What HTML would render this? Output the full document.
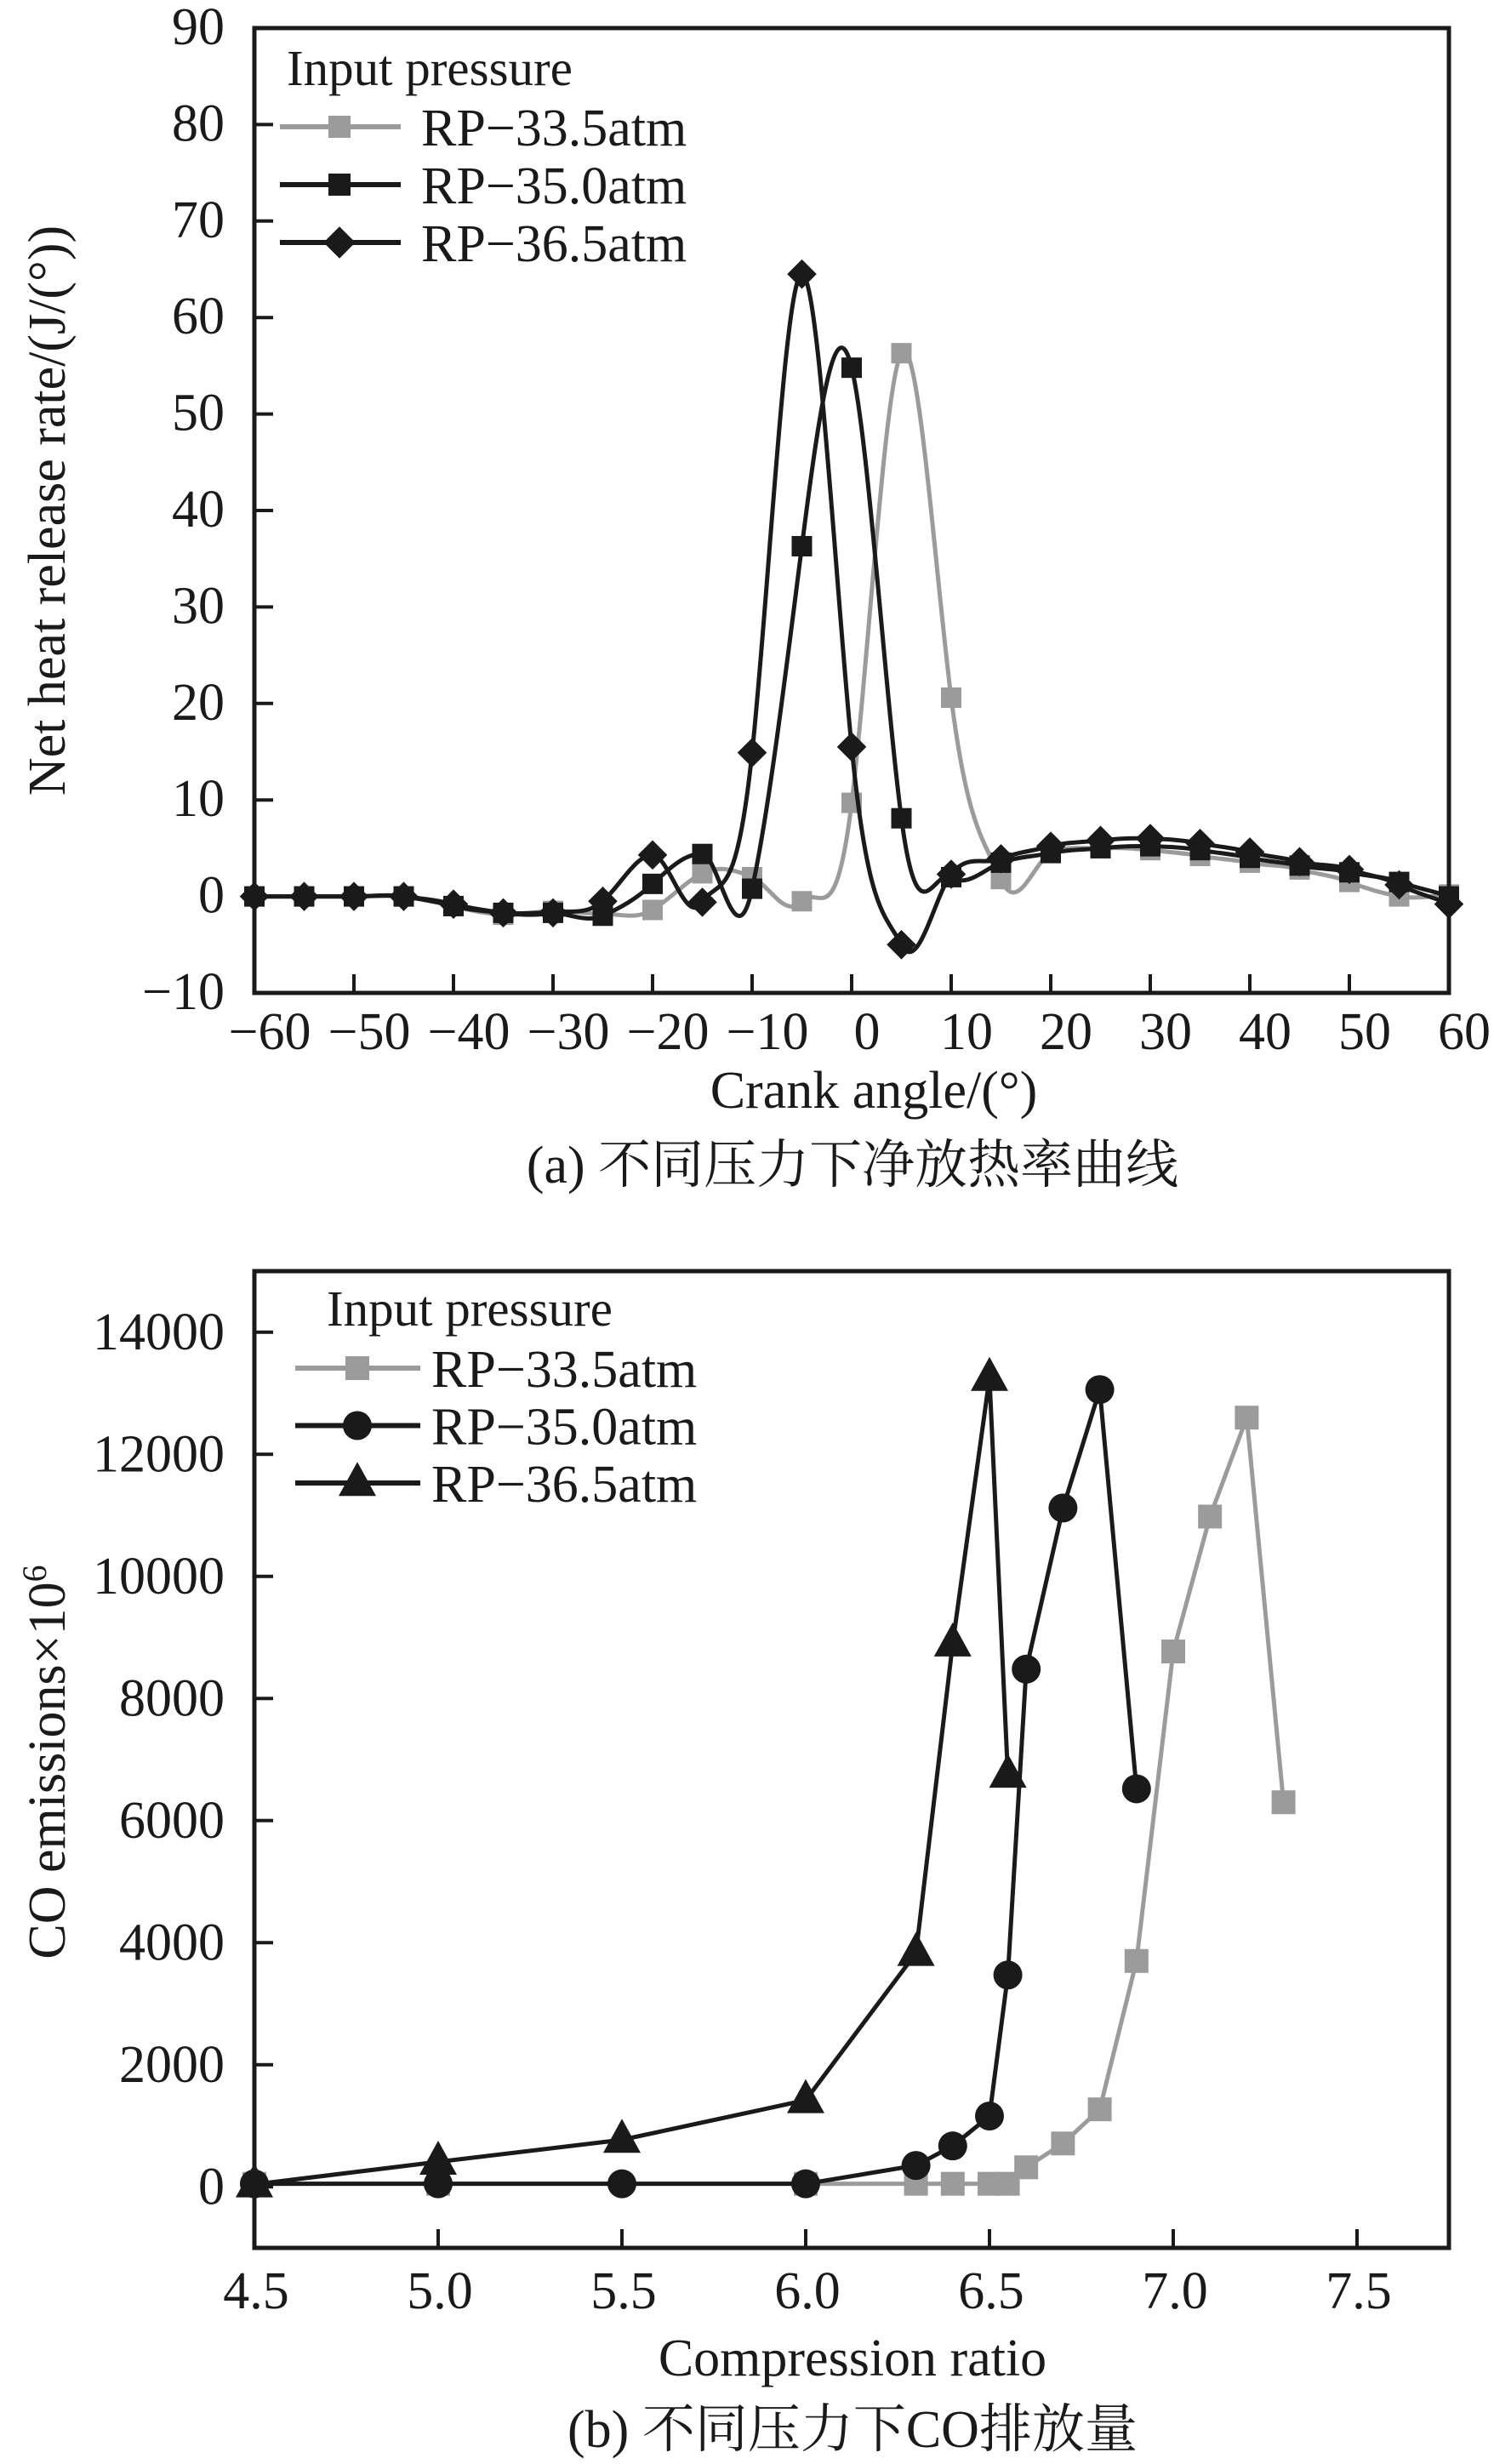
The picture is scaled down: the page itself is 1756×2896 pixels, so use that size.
<!DOCTYPE html>
<html><head><meta charset="utf-8"><style>
html,body{margin:0;padding:0;background:#fff;}
svg{display:block;font-family:"Liberation Serif","Noto Serif CJK SC","Noto Sans CJK SC",serif;}
</style></head><body>
<svg id="s" width="1756" height="2896" viewBox="0 0 1756 2896"></svg>
<script>
// ---- Chart (a) data ----
const crankAngles=[-60,-55,-50,-45,-40,-35,-30,-25,-20,-15,-10,-5,0,5,10,15,20,25,30,35,40,45,50,55,60];
const hrr335=[0,0,0,0,-1,-1.9,-1.5,-1.8,-1.4,2.4,2,-0.5,9.7,56.3,20.6,1.8,4.5,5,4.8,4.2,3.5,2.8,1.5,0,0.2];
const hrr350=[0,0,0,0,-1,-1.7,-1.7,-2,1.3,4.4,0.8,36.3,54.8,8.1,2,3.5,4.5,5,5.2,4.8,4,3.2,2.5,1.5,0];
const hrr365=[0,0,0,0,-0.8,-1.7,-1.7,-0.5,4.3,-0.6,14.9,64.5,15.5,-5,2.3,3.9,5.2,5.8,6,5.5,4.6,3.6,2.8,1.2,-0.8];
const xTicksA=[-60,-50,-40,-30,-20,-10,0,10,20,30,40,50,60];
const yTicksA=[-10,0,10,20,30,40,50,60,70,80,90];
// ---- Chart (b) data ----
const cr335=[4.5,5.0,6.0,6.3,6.4,6.5,6.55,6.6,6.7,6.8,6.9,7.0,7.1,7.2,7.3];
const co335=[50,50,50,50,50,50,50,320,710,1270,3700,8770,10980,12600,6300];
const cr350=[4.5,5.0,5.5,6.0,6.3,6.4,6.5,6.55,6.6,6.7,6.8,6.9];
const co350=[50,50,50,50,350,670,1160,3470,8480,11120,13060,6520];
const cr365=[4.5,5.0,5.5,6.0,6.3,6.4,6.5,6.55];
const co365=[40,410,770,1420,3830,8900,13250,6750];
const xTicksB=[4.5,5.0,5.5,6.0,6.5,7.0,7.5];
const yTicksB=[0,2000,4000,6000,8000,10000,12000,14000];

const NS="http://www.w3.org/2000/svg";
const svg=document.getElementById('s');
function el(tag,attrs,parent){const e=document.createElementNS(NS,tag);for(const k in attrs)e.setAttribute(k,attrs[k]);(parent||svg).appendChild(e);return e;}
function txt(str,attrs,parent){const e=el('text',attrs,parent);e.textContent=str;return e;}
const GRAY="#9b9b9b",BLACK="#1a1a1a";

function spline(pts){
  const k=4;
  let d=`M${pts[0][0]},${pts[0][1]}`;
  for(let i=0;i<pts.length-1;i++){
    const p0=pts[Math.max(0,i-1)],p1=pts[i],p2=pts[i+1],p3=pts[Math.min(pts.length-1,i+2)];
    const c1x=p1[0]+(p2[0]-p0[0])/6,c1y=p1[1]+(p2[1]-p0[1])/k;
    const c2x=p2[0]-(p3[0]-p1[0])/6,c2y=p2[1]-(p3[1]-p1[1])/k;
    d+=` C${c1x},${c1y} ${c2x},${c2y} ${p2[0]},${p2[1]}`;
  }
  return d;
}
function marker(g,type,x,y,color,size){
  let m;
  if(type==='square'){m=el('rect',{x:x-size/2,y:y-size/2,width:size,height:size,fill:color},g);}
  else if(type==='diamond'){const r=size*0.72;m=el('polygon',{points:`${x},${y-r} ${x+r},${y} ${x},${y+r} ${x-r},${y}`,fill:color},g);}
  else if(type==='circle'){m=el('circle',{cx:x,cy:y,r:size/2,fill:color},g);}
  else {const h=size;m=el('polygon',{points:`${x},${y-h*0.62} ${x+h*0.55},${y+h*0.38} ${x-h*0.55},${y+h*0.38}`,fill:color},g);}
  
  
  return m;
}

// ================= Chart A =================
const A={l:299,r:1703,t:33,b:1167,xmin:-60,xmax:60,ymin:-10,ymax:90};
const xA=v=>A.l+(v-A.xmin)/(A.xmax-A.xmin)*(A.r-A.l);
const yA=v=>A.b-(v-A.ymin)/(A.ymax-A.ymin)*(A.b-A.t);
const gA=el('g',{});


const seriesA=[
  {name:'rp-33-5',vals:hrr335,color:GRAY,m:'square'},
  {name:'rp-35-0',vals:hrr350,color:BLACK,m:'square'},
  {name:'rp-36-5',vals:hrr365,color:BLACK,m:'diamond'}];
seriesA.forEach(s=>{
  const g=el('g',{},gA);
  
  
  const pts=crankAngles.map((c,i)=>[xA(c),yA(s.vals[i])]);
  const p=el('path',{d:spline(pts),fill:'none',stroke:s.color,'stroke-width':5},g);
  
  
  pts.forEach(q=>marker(g,s.m,q[0],q[1],s.color,24));
});
const fA=el('rect',{x:A.l,y:A.t,width:A.r-A.l,height:A.b-A.t,fill:'none',stroke:BLACK,'stroke-width':5},gA);


xTicksA.forEach(v=>{
  const x=xA(v);
  const tk=el('line',{x1:x,x2:x,y1:A.b,y2:A.b-22,stroke:BLACK,'stroke-width':4},gA);
  
  
  const t=txt((v<0?'\u2212':'')+Math.abs(v),{x:x+18,y:1233,'font-size':62,'text-anchor':'middle',fill:BLACK},gA);
  
  
});
yTicksA.forEach(v=>{
  const y=yA(v);
  const tk=el('line',{x1:A.l,x2:A.l+22,y1:y,y2:y,stroke:BLACK,'stroke-width':4},gA);
  
  
  const t=txt((v<0?'\u2212':'')+Math.abs(v),{x:264,y:y+19,'font-size':62,'text-anchor':'end',fill:BLACK},gA);
  
  
});
let t=txt('Crank angle/(°)',{x:1027,y:1302,'font-size':62,'text-anchor':'middle',fill:BLACK},gA);


t=txt('Net heat release rate/(J/(°))',{x:0,y:0,'font-size':62,'text-anchor':'middle',fill:BLACK,transform:'translate(76,600) rotate(-90)'},gA);


t=txt('(a) 不同压力下净放热率曲线',{x:1002,y:1390,'font-size':62,'text-anchor':'middle',fill:BLACK},gA);


const lgA=el('g',{},gA);


t=txt('Input pressure',{x:337,y:100,'font-size':59,fill:BLACK},lgA);


const labelsA=['RP\u221233.5atm','RP\u221235.0atm','RP\u221236.5atm'];
seriesA.forEach((s,i)=>{
  const y=149+i*68;
  const g=el('g',{},lgA);
  
  
  el('line',{x1:329,x2:471,y1:y,y2:y,stroke:s.color,'stroke-width':6},g);
  marker(g,s.m,399,y,s.color,26);
  const tt=txt(labelsA[i],{x:495,y:y+22,'font-size':62,fill:BLACK},g);
  
  
});

// ================= Chart B =================
const B={l:299,r:1703,t:1494,b:2642,xmin:4.5,xmax:7.75,ymin:-1000,ymax:15000};
const xB=v=>B.l+(v-B.xmin)/(B.xmax-B.xmin)*(B.r-B.l);
const yB=v=>B.b-(v-B.ymin)/(B.ymax-B.ymin)*(B.b-B.t);
const gB=el('g',{});


const seriesB=[
  {name:'rp-33-5',xs:cr335,vals:co335,color:GRAY,m:'square',sz:28},
  {name:'rp-35-0',xs:cr350,vals:co350,color:BLACK,m:'circle',sz:34},
  {name:'rp-36-5',xs:cr365,vals:co365,color:BLACK,m:'triangle',sz:40}];
seriesB.forEach(s=>{
  const g=el('g',{},gB);
  
  
  const pts=s.xs.map((c,i)=>[xB(c),yB(s.vals[i])]);
  const p=el('polyline',{points:pts.map(q=>q.join(',')).join(' '),fill:'none',stroke:s.color,'stroke-width':5},g);
  
  
  pts.forEach(q=>marker(g,s.m,q[0],q[1],s.color,s.sz));
});
const fB=el('rect',{x:B.l,y:B.t,width:B.r-B.l,height:B.b-B.t,fill:'none',stroke:BLACK,'stroke-width':5},gB);


xTicksB.forEach(v=>{
  const x=xB(v);
  const tk=el('line',{x1:x,x2:x,y1:B.b,y2:B.b-22,stroke:BLACK,'stroke-width':4},gB);
  
  
  const tt=txt(v.toFixed(1),{x:x+2,y:2713,'font-size':62,'text-anchor':'middle',fill:BLACK},gB);
  
  
});
yTicksB.forEach(v=>{
  const y=yB(v);
  const tk=el('line',{x1:B.l,x2:B.l+22,y1:y,y2:y,stroke:BLACK,'stroke-width':4},gB);
  
  
  const tt=txt(String(v),{x:264,y:y+20,'font-size':62,'text-anchor':'end',fill:BLACK},gB);
  
  
});
t=txt('Compression ratio',{x:1002,y:2792,'font-size':62,'text-anchor':'middle',fill:BLACK},gB);


t=el('text',{x:0,y:0,'font-size':62,'text-anchor':'middle',fill:BLACK,transform:'translate(76,2071) rotate(-90)'},gB);
t.innerHTML='CO emissions×10<tspan dy="-22" font-size="40">6</tspan>';


t=txt('(b) 不同压力下CO排放量',{x:1002,y:2876,'font-size':62,'text-anchor':'middle',fill:BLACK},gB);


const lgB=el('g',{},gB);


t=txt('Input pressure',{x:384,y:1558,'font-size':59,fill:BLACK},lgB);


seriesB.forEach((s,i)=>{
  const y=1608+i*67.5;
  const g=el('g',{},lgB);
  
  
  el('line',{x1:347,x2:494,y1:y,y2:y,stroke:s.color,'stroke-width':6},g);
  marker(g,s.m,420,y,s.color,s.sz);
  const tt=txt(labelsA[i],{x:507,y:y+22,'font-size':62,fill:BLACK},g);
  
  
});
</script>
</body></html>
